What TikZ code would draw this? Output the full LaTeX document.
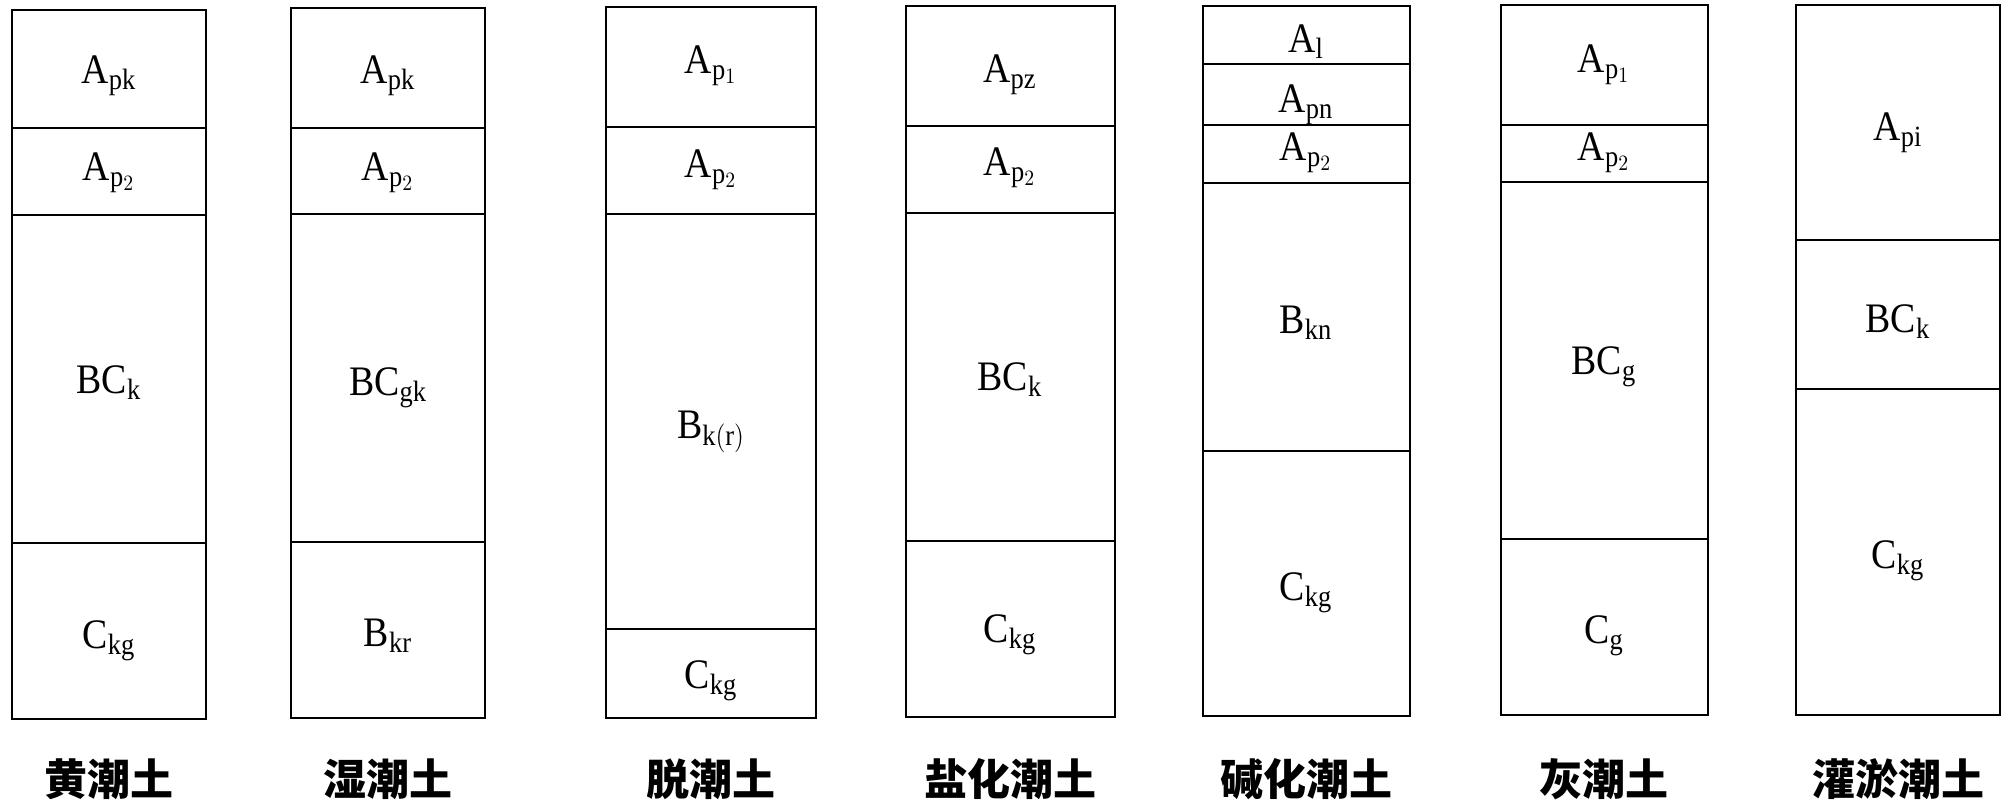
\documentclass[tikz,border=0pt]{standalone}
\usepackage{fontspec}
\setmainfont{Liberation Serif}
\newfontfamily\cjk{Noto Sans CJK SC}
\newcommand\hzt[1]{\scalebox{0.9}[1]{$#1$}}
\begin{document}
\begin{tikzpicture}[x=0.5pt,y=-0.5pt,
  soil/.style={draw=black, line width=1.4pt},
  hz/.style={anchor=base, inner sep=0pt, font=\fontsize{21}{25}\selectfont},
  lab/.style={anchor=center, inner sep=0pt, font=\cjk\bfseries\fontsize{21.5}{26}\selectfont}]
\useasboundingbox[fill=white] (0,0) rectangle (2002,803);

% column 1: 黄潮土
\draw[soil] (12,10) rectangle (206,719);
\draw[soil] (12,128) -- (206,128);
\draw[soil] (12,215) -- (206,215);
\draw[soil] (12,543) -- (206,543);
\node[hz] (c1a) at (109,83) {\hzt{\mathrm{A}_{\mathrm{pk}}}};
\node[hz] (c1b) at (109,180) {\hzt{\mathrm{A}_{\mathrm{p}_2}}};
\node[hz] (c1c) at (109,393) {\hzt{\mathrm{BC}_{\mathrm{k}}}};
\node[hz] (c1d) at (109,648) {\hzt{\mathrm{C}_{\mathrm{kg}}}};
\node[lab] (n1) at (109,779) {黄潮土};

% column 2: 湿潮土
\draw[soil] (291,8) rectangle (485,718);
\draw[soil] (291,128) -- (485,128);
\draw[soil] (291,214) -- (485,214);
\draw[soil] (291,542) -- (485,542);
\node[hz] (c2a) at (388,83) {\hzt{\mathrm{A}_{\mathrm{pk}}}};
\node[hz] (c2b) at (388,180) {\hzt{\mathrm{A}_{\mathrm{p}_2}}};
\node[hz] (c2c) at (388,395) {\hzt{\mathrm{BC}_{\mathrm{gk}}}};
\node[hz] (c2d) at (388,646) {\hzt{\mathrm{B}_{\mathrm{kr}}}};
\node[lab] (n2) at (388,779) {湿潮土};

% column 3: 脱潮土
\draw[soil] (606,7) rectangle (816,718);
\draw[soil] (606,127) -- (816,127);
\draw[soil] (606,214) -- (816,214);
\draw[soil] (606,629) -- (816,629);
\node[hz] (c3a) at (711,73) {\hzt{\mathrm{A}_{\mathrm{p}_1}}};
\node[hz] (c3b) at (711,177) {\hzt{\mathrm{A}_{\mathrm{p}_2}}};
\node[hz] (c3c) at (711,438) {\hzt{\mathrm{B}_{\mathrm{k(r)}}}};
\node[hz] (c3d) at (711,688) {\hzt{\mathrm{C}_{\mathrm{kg}}}};
\node[lab] (n3) at (711,779) {脱潮土};

% column 4: 盐化潮土
\draw[soil] (906,6) rectangle (1115,717);
\draw[soil] (906,126) -- (1115,126);
\draw[soil] (906,213) -- (1115,213);
\draw[soil] (906,541) -- (1115,541);
\node[hz] (c4a) at (1010,82) {\hzt{\mathrm{A}_{\mathrm{pz}}}};
\node[hz] (c4b) at (1010,175) {\hzt{\mathrm{A}_{\mathrm{p}_2}}};
\node[hz] (c4c) at (1010,390) {\hzt{\mathrm{BC}_{\mathrm{k}}}};
\node[hz] (c4d) at (1010,642) {\hzt{\mathrm{C}_{\mathrm{kg}}}};
\node[lab] (n4) at (1010,779) {盐化潮土};

% column 5: 碱化潮土
\draw[soil] (1203,6) rectangle (1410,716);
\draw[soil] (1203,64) -- (1410,64);
\draw[soil] (1203,125) -- (1410,125);
\draw[soil] (1203,183) -- (1410,183);
\draw[soil] (1203,451) -- (1410,451);
\node[hz] (c5a) at (1306,52) {\hzt{\mathrm{A}_{\mathrm{l}}}};
\node[hz] (c5b) at (1306,112) {\hzt{\mathrm{A}_{\mathrm{pn}}}};
\node[hz] (c5c) at (1306,160) {\hzt{\mathrm{A}_{\mathrm{p}_2}}};
\node[hz] (c5d) at (1306,333) {\hzt{\mathrm{B}_{\mathrm{kn}}}};
\node[hz] (c5e) at (1306,600) {\hzt{\mathrm{C}_{\mathrm{kg}}}};
\node[lab] (n5) at (1306,779) {碱化潮土};

% column 6: 灰潮土
\draw[soil] (1501,5) rectangle (1708,715);
\draw[soil] (1501,125) -- (1708,125);
\draw[soil] (1501,182) -- (1708,182);
\draw[soil] (1501,539) -- (1708,539);
\node[hz] (c6a) at (1604,72) {\hzt{\mathrm{A}_{\mathrm{p}_1}}};
\node[hz] (c6b) at (1604,160) {\hzt{\mathrm{A}_{\mathrm{p}_2}}};
\node[hz] (c6c) at (1604,374) {\hzt{\mathrm{BC}_{\mathrm{g}}}};
\node[hz] (c6d) at (1604,643) {\hzt{\mathrm{C}_{\mathrm{g}}}};
\node[lab] (n6) at (1604,779) {灰潮土};

% column 7: 灌淤潮土
\draw[soil] (1796,5) rectangle (2000,715);
\draw[soil] (1796,240) -- (2000,240);
\draw[soil] (1796,389) -- (2000,389);
\node[hz] (c7a) at (1898,140) {\hzt{\mathrm{A}_{\mathrm{pi}}}};
\node[hz] (c7b) at (1898,332) {\hzt{\mathrm{BC}_{\mathrm{k}}}};
\node[hz] (c7c) at (1898,568) {\hzt{\mathrm{C}_{\mathrm{kg}}}};
\node[lab] (n7) at (1898,779) {灌淤潮土};
\end{tikzpicture}
\end{document}
